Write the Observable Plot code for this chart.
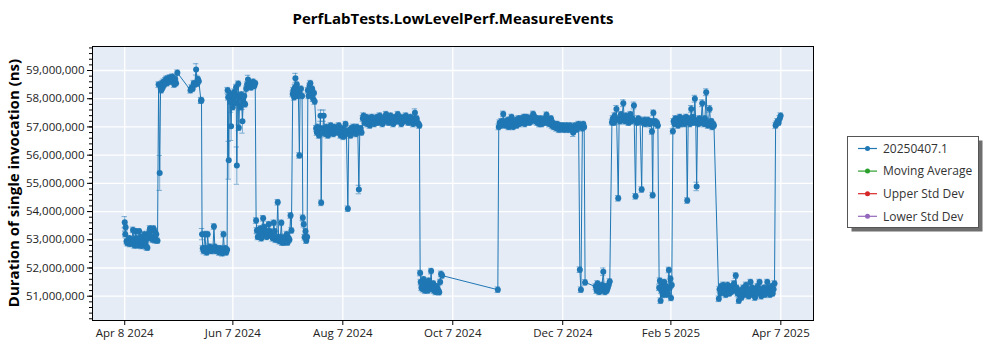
<!DOCTYPE html>
<html><head><meta charset="utf-8">
<script src="https://cdn.jsdelivr.net/npm/d3@7"></script>
<script src="https://cdn.jsdelivr.net/npm/@observablehq/plot@0.6"></script>
<style>
body{margin:0;background:#fff;font-family:"Open Sans",sans-serif;}
#wrap{position:relative;width:1000px;height:350px;}
</style>
</head><body><div id="wrap"></div>
<script>
// ---- data: [day offset from startDate, value (millions ns), optional error half-width (millions)]
const startDate = "2024-04-08";
const seriesName = "20250407.1";
const legendNames = ["20250407.1", "Moving Average", "Upper Std Dev", "Lower Std Dev"];
const legendColors = ["#1f77b4", "#2ca02c", "#d62728", "#9467bd"];
const xTickDates = ["2024-04-08","2024-06-07","2024-08-07","2024-10-07","2024-12-07","2025-02-05","2025-04-07"];
const yTicks = [51e6,52e6,53e6,54e6,55e6,56e6,57e6,58e6,59e6];

const seg1 = [[0,53.62,0.2],[0.3,53.2],[0.5,53.44],[1,52.95],[1.5,52.88],[2,52.92],[2.6,53.05],[3,52.85],[3.5,52.9],[4,53.0],[4.6,53.35],[5,52.95],[5.5,52.8],[6,53.3],[6.5,53.05],[7,52.9],[7.5,52.8],[8,53.3],[8.5,52.95],[9,53.1],[9.5,52.78],[10,52.85],[10.5,53.0],[11,53.2],[11.5,52.9],[12,52.75],[12.6,52.72],[13,53.05],[13.5,53.25],[14,53.4],[14.5,53.35],[15,53.1],[15.5,53.0],[16,53.4],[16.5,53.3],[17,52.98],[17.5,53.2],[18.2,52.97]];
const seg2 = [[18.8,58.5],[19.4,55.37,0.62],[19.9,58.45],[20.3,58.3],[20.7,58.55],[21.1,58.4],[21.5,58.6],[22,58.5],[22.5,58.65],[23,58.7],[23.5,58.55],[24,58.72],[24.5,58.65],[25,58.75],[25.5,58.6],[26,58.7],[26.5,58.78],[27,58.65],[27.5,58.5],[28,58.7],[28.5,58.55],[29.2,58.92],[36.5,58.3],[37.2,58.4],[37.7,58.35],[38.3,58.55],[38.8,58.5],[39.6,59.04,0.2],[40.2,58.53],[40.6,58.7],[41.1,58.62],[42.3,57.93],[42.6,57.95]];
const seg3 = [[42.9,53.2,0.2],[43.3,52.7],[43.8,52.6],[44.5,53.2],[45,52.7],[45.5,52.55],[46,53.2],[46.6,52.65],[47.2,52.75],[47.8,52.6],[48.3,52.7],[48.9,52.62],[49.5,53.47],[50,52.75],[50.6,52.6],[51.2,52.7],[51.8,52.65],[52.4,52.55],[53,52.7],[53.6,52.6],[54.2,52.52],[54.8,53.2],[55.3,52.6],[55.8,52.7],[56.3,52.55],[56.8,52.65]];
const seg4 = [[57.1,58.3],[57.4,58.05],[57.7,55.82,0.67],[58.1,58.2],[58.5,57.9],[59,57.02,0.5],[59.4,58.1],[59.9,57.7],[60.4,58.0],[60.9,58.25],[61.4,57.85],[61.8,58.41],[62.2,55.63,0.66],[62.6,58.1],[63,58.53],[63.3,56.97],[63.8,58.05],[64.2,57.7],[64.7,58.15],[65.3,57.2,0.42],[65.8,57.9],[66.3,58.1],[66.8,57.8],[67.4,58.35],[67.9,58.5],[68.4,58.68,0.15],[68.9,58.45],[69.5,58.55],[70.1,58.4],[70.7,58.5],[71.3,58.6],[71.9,58.45],[72.4,58.55]];
const seg5 = [[72.9,53.68],[73.3,53.33],[73.8,53.1],[74.3,53.35],[74.8,53.2],[75.3,53.4],[75.8,53.05],[76.3,53.3],[76.8,53.76],[77.3,53.45],[77.8,53.2],[78.3,53.3],[78.8,53.1],[79.3,53.25],[79.9,53.55],[80.4,53.3],[80.9,53.15],[81.5,53.2],[82.1,53.05],[82.7,53.6],[83.2,53.3],[83.7,53.0],[84.3,53.1],[84.9,54.33],[85.4,53.0],[85.9,52.95],[86.4,53.1],[86.9,53.6],[87.4,52.9],[87.9,53.0],[88.4,52.9],[88.9,53.1],[89.4,52.95],[89.9,53.2],[90.4,52.9],[90.9,53.05],[91.4,53.0],[92,53.86],[92.5,53.33]];
const seg6 = [[93.2,58.17],[93.6,58.3],[94,58.05],[94.4,58.4],[94.7,58.73,0.17],[95.1,58.2],[95.5,58.5],[95.9,58.1],[96.3,58.3],[96.9,55.99],[97.3,58.15],[97.8,58.35],[98.4,58.1],[98.8,53.78],[99.3,53.55],[99.8,53.09],[100.3,53.3],[100.7,52.97],[101.2,53.1],[101.6,58.3],[102,58.1],[102.5,58.45],[103,58.55],[103.5,58.2],[104,58.35],[104.5,58.0],[105,58.2],[105.4,57.9]];
const seg7 = [[106.2,56.95],[106.6,56.8],[107,57.0],[107.4,56.85],[107.8,56.7],[108.2,56.95],[108.6,57.4,0.2],[109,54.31],[109.4,56.9],[109.8,56.8],[110.4,57.4,0.2],[110.8,56.95],[111.3,56.75],[111.8,57.0],[112.3,56.85],[112.8,56.7],[113.3,56.95],[113.8,56.85],[114.3,57.05],[114.8,56.8],[115.3,56.9],[115.8,56.75],[116.3,57.0],[116.8,56.85],[117.3,56.95],[117.8,56.8],[118.3,56.9],[118.8,57.05],[119.3,56.85],[119.8,56.7],[120.3,56.95],[120.8,56.8],[121.3,56.65],[121.8,56.9],[122.5,57.1],[123,56.8],[123.8,54.1],[124.3,56.75],[124.8,56.9],[125.3,56.7],[125.8,56.95],[126.3,56.85],[126.8,57.0],[127.3,56.8],[127.8,56.9],[128.3,56.75],[128.8,57.0],[129.3,56.9],[129.9,54.78,0.15],[130.4,56.85],[130.9,56.95],[131.4,56.8]];
const seg8 = [[132.1,57.3],[132.5,57.4],[133,57.15],[133.5,57.25],[134,57.35],[134.5,57.1],[135,57.2],[135.5,57.3],[136,57.05],[136.5,57.2],[137,57.35],[137.5,57.15],[138,57.25],[138.5,57.1],[139,57.3],[139.5,57.2],[140,57.35],[140.5,57.15],[141,57.25],[141.5,57.4],[142,57.2],[142.5,57.3],[143,57.1],[143.5,57.25],[144,57.2],[144.5,57.35],[145,57.45],[145.5,57.2],[146,57.3],[146.5,57.15],[147,57.25],[147.5,57.4],[148,57.2],[148.5,57.3],[149,57.1],[149.5,57.25],[150,57.35],[150.5,57.2],[151,57.3],[151.5,57.45],[152,57.2],[152.5,57.35],[153,57.25],[153.5,57.1],[154,57.3],[154.5,57.2],[155,57.35],[155.5,57.25],[156,57.4],[156.5,57.2],[157,57.3],[157.5,57.15],[158,57.25],[158.5,57.35],[159,57.2],[159.5,57.3],[160,57.1],[160.5,57.25],[161,57.5,0.14],[161.5,57.2],[162,57.3],[162.5,57.15],[163,57.1],[163.5,57.05]];
const seg9 = [[163.9,51.82],[164.2,51.5],[164.6,51.3],[165,51.45],[165.4,51.25],[165.8,51.6],[166.2,51.35],[166.6,51.2],[167,51.5],[167.4,51.3],[167.8,51.4],[168.2,51.2],[168.6,51.55],[169,51.3],[169.5,51.4],[170,51.89],[170.4,51.35],[170.8,51.25],[171.2,51.45],[171.6,51.2],[172,51.3],[172.5,51.15],[173,51.35],[173.5,51.25],[174,51.2],[174.5,51.14],[175,51.5],[175.5,51.79],[176.1,51.73],[207,51.23]];
const seg10 = [[207.5,57.0],[208,57.15],[208.5,57.05],[209,57.2],[209.5,57.1],[210,57.46],[210.5,57.15],[211,57.05],[211.5,57.2],[212,57.1],[212.5,57.25],[213,57.0],[213.5,57.15],[214,57.05],[214.6,57.35],[215,57.15],[215.5,57.0],[216,57.2],[216.5,57.1],[217,57.25],[217.5,57.05],[218,57.15],[218.5,57.3],[219,57.1],[219.5,57.2],[220,57.3],[220.5,57.15],[221,57.25],[221.5,57.35],[222,57.1],[222.5,57.25],[223,57.35],[223.5,57.2],[224,57.3],[224.5,57.15],[225,57.3],[225.5,57.2],[226,57.35],[226.6,57.46],[227,57.25],[227.5,57.35],[228,57.2],[228.5,57.3],[229,57.15],[229.5,57.25],[230,57.1],[230.5,57.3],[231,57.2],[231.5,57.1],[232,57.25],[232.5,57.15],[233,57.3],[233.5,57.2],[234,57.43],[234.5,57.15],[235,57.25],[235.5,57.1],[236,57.2],[236.5,57.3],[237,57.05],[237.5,57.15],[238,57.0],[238.5,57.1],[239,57.05],[239.5,56.95],[240,57.1],[240.5,57.0],[241,56.9],[241.5,57.05],[242,56.95],[242.5,57.0],[243,57.05],[243.5,56.9],[244,57.0],[244.5,56.95],[245,57.05],[245.5,56.9],[246,57.0],[246.5,56.95],[247,57.05],[247.5,56.9],[248,57.0],[248.8,56.79,0.13],[249.3,56.95],[249.8,57.05],[250.3,56.9],[250.8,57.0],[251.3,56.95],[251.8,57.1],[252.5,51.94],[253.1,51.23],[253.9,56.95],[254.4,57.1],[254.9,57.0],[255.4,51.49]];
const seg11 = [[261.3,51.34],[261.8,51.2],[262.3,51.45],[262.8,51.25],[263.3,51.15],[263.8,51.3],[264.3,51.2],[264.8,51.4],[265.5,51.87,0.13],[266,51.3],[266.5,51.15],[267,51.35],[267.5,51.2],[268,51.3],[268.5,51.4],[269.1,51.52]];
const seg12 = [[270.3,57.17],[270.8,57.3],[271.3,57.15],[271.8,57.4],[272.3,57.25],[272.8,57.64,0.12],[273.8,54.47],[274.3,57.3],[274.8,57.2],[275.3,57.45],[275.8,57.25],[276.6,57.84,0.12],[277.1,57.3],[277.6,57.2],[278.1,57.4],[278.6,57.25],[279.1,57.35],[279.6,57.15],[280.1,57.3],[280.6,57.45],[281.1,57.2],[281.6,57.3],[282.5,57.76,0.12],[283.4,54.54],[283.9,57.2],[284.4,57.15],[284.9,57.3],[285.4,57.2],[285.9,57.25],[286.8,54.78],[287.3,57.2],[287.8,57.15],[288.3,57.25],[288.8,57.1],[289.3,57.2],[289.8,57.15],[290.3,57.25],[290.8,57.15],[291.3,57.1],[291.8,57.2],[292.5,56.84],[292.9,54.58],[293.3,57.5,0.1],[293.8,57.15],[294.3,57.2],[294.8,57.1],[295.3,57.15],[295.8,57.05]];
const seg13 = [[296.5,51.3],[296.9,51.55],[297.3,50.84],[297.7,51.2],[298.1,51.4],[298.5,51.05],[298.9,51.3],[299.3,51.5],[299.7,51.15],[300.1,51.35],[300.5,51.05],[300.9,51.25],[301.3,51.1],[301.9,51.93],[302.4,51.3],[302.8,51.62],[303.1,50.94],[303.5,51.4]];
const seg14 = [[304.1,56.85],[304.5,57.2],[305,57.1],[305.5,57.3],[306,57.15],[306.5,57.25],[307,57.05],[307.5,57.2],[308,57.35],[308.5,57.1],[309,57.25],[309.5,57.15],[310,57.3],[310.5,57.1],[311,57.2],[311.5,57.35],[312.1,54.39],[312.6,57.2],[313.1,57.3],[313.6,57.1],[314.3,57.64,0.12],[314.8,57.2],[315.3,57.35],[315.8,57.15],[316.3,58.0,0.12],[316.8,57.2],[317.3,54.89,0.15],[317.8,57.25],[318.3,57.1],[318.8,57.3],[319.3,57.15],[319.8,57.25],[320.4,57.84,0.12],[320.9,57.2],[321.4,57.1],[321.9,57.3],[322.6,58.23,0.12],[323.1,57.15],[323.6,57.05],[324.5,57.64,0.12],[325,57.1],[325.5,57.2],[326,57.0],[326.5,57.1],[326.9,57.05]];
const seg15 = [[329.6,50.91],[330,51.25],[330.5,51.1],[331,51.35],[331.5,51.2],[332,51.4],[332.5,51.15],[333,51.3],[333.5,51.05],[334,51.25],[334.5,51.4],[335,51.2],[335.5,51.1],[336,51.3],[336.5,51.15],[337,51.35],[337.5,51.2],[338,51.45],[338.5,51.25],[339,51.73],[339.5,51.3],[340,51.1],[340.7,50.84],[341.2,51.05],[341.7,51.2],[342.2,50.95],[342.7,51.15],[343.2,51.3],[343.7,51.05],[344.2,51.2],[344.7,51.4],[345.2,51.1],[345.7,51.25],[346.2,51.0],[347.2,51.5],[347.7,51.15],[348.2,51.3],[348.7,51.05],[349.2,51.2],[349.7,50.95],[350.2,51.25],[350.7,51.1],[351.2,51.35],[352.2,51.5],[352.7,51.15],[353.2,51.0],[353.7,51.25],[354.2,51.1],[354.7,51.3],[355.2,51.05],[355.7,51.2],[356.5,51.5],[357,51.15],[357.5,51.3],[358,51.05],[358.5,51.2],[359,51.35],[359.5,51.1],[360,51.25],[360.5,51.45]];
const seg16 = [[361.1,57.05],[361.6,57.11],[362.2,57.2],[362.8,57.15],[363.4,57.3],[363.9,57.4]];

const segments = [seg1,seg2,seg3,seg4,seg5,seg6,seg7,seg8,seg9,seg10,seg11,seg12,seg13,seg14,seg15,seg16];
const DAY = 864e5;
const t0 = Date.parse(startDate + "T00:00Z");
const rows = segments.flat().map(([d, v, e]) => ({
  date: new Date(t0 + d * DAY), value: v * 1e6, err: (e ?? 0.1) * 1e6
}));
const xTicks = xTickDates.map(s => new Date(s + "T00:00Z"));
const minorTicks = d3.range(50.2e6, 59.85e6, 2e5);
const capHalf = 1.5 * DAY;
const blue = "#1f77b4";
const fmtDate = d3.utcFormat("%b %-d %Y");

const chart = Plot.plot({
  width: 1000, height: 350,
  marginLeft: 92, marginRight: 187, marginTop: 46, marginBottom: 30,
  style: {fontFamily: "Open Sans", fontSize: "11.5px", color: "#222", background: "white"},
  x: {type: "utc", domain: [new Date("2024-03-21T03:00Z"), new Date("2025-04-25T03:00Z")]},
  y: {domain: [50.139e6, 59.851e6]},
  marks: [
    Plot.frame({fill: "#e5ecf6", stroke: null}),
    Plot.gridX(xTicks, {stroke: "white", strokeOpacity: 1, strokeWidth: 1.3}),
    Plot.gridY(yTicks, {stroke: "white", strokeOpacity: 1, strokeWidth: 1.3}),
    Plot.ruleX(rows, {x: "date", y1: d => d.value - d.err, y2: d => d.value + d.err, stroke: blue, strokeOpacity: 0.55}),
    Plot.ruleY(rows, {y: d => d.value + d.err, x1: d => new Date(+d.date - capHalf), x2: d => new Date(+d.date + capHalf), stroke: blue, strokeOpacity: 0.55}),
    Plot.ruleY(rows, {y: d => d.value - d.err, x1: d => new Date(+d.date - capHalf), x2: d => new Date(+d.date + capHalf), stroke: blue, strokeOpacity: 0.55}),
    Plot.line(rows, {x: "date", y: "value", stroke: blue, strokeWidth: 1}),
    Plot.dot(rows, {x: "date", y: "value", r: 3, fill: blue, stroke: null}),
    Plot.frame({stroke: "black", strokeWidth: 1}),
    Plot.axisY(yTicks, {tickSize: 5, tickPadding: 3, tickFormat: d3.format(","), label: null, stroke: "black"}),
    Plot.axisY(minorTicks, {tickSize: 3, tickFormat: () => "", label: null, stroke: "black"}),
    Plot.axisX(xTicks, {tickSize: 5, tickPadding: 3, tickFormat: fmtDate, label: null, stroke: "black"})
  ]
});
document.getElementById("wrap").appendChild(chart);

// title, y label, legend
const svg = d3.select(chart);
svg.append("text").attr("x", 453).attr("y", 24).attr("text-anchor", "middle")
  .attr("font-family", "Open Sans").attr("font-weight", "bold").attr("font-size", 15).attr("fill", "#000")
  .text("PerfLabTests.LowLevelPerf.MeasureEvents");
svg.append("text").attr("transform", "translate(18.5,183) rotate(-90)").attr("text-anchor", "middle")
  .attr("font-family", "Open Sans").attr("font-weight", "bold").attr("font-size", 15).attr("fill", "#000")
  .text("Duration of single invocation (ns)");
const lg = svg.append("g").attr("text-anchor", "start");
lg.append("rect").attr("x", 851.5).attr("y", 140.5).attr("width", 131).attr("height", 91).attr("fill", "#6e6e6e");
lg.append("rect").attr("x", 847.5).attr("y", 136.5).attr("width", 131).attr("height", 91).attr("fill", "white").attr("stroke", "#555");
legendNames.forEach((name, i) => {
  const y = 148.5 + i * 22.6;
  lg.append("line").attr("x1", 858).attr("x2", 877).attr("y1", y).attr("y2", y).attr("stroke", legendColors[i]).attr("stroke-width", 1.2);
  lg.append("circle").attr("cx", 867.5).attr("cy", y).attr("r", 2.5).attr("fill", legendColors[i]);
  lg.append("text").attr("x", 883).attr("y", y).attr("dy", "0.35em").attr("text-anchor", "start").attr("font-family", "Open Sans")
    .attr("font-size", 12).attr("fill", "#333").text(name);
});
</script>
</body></html>
